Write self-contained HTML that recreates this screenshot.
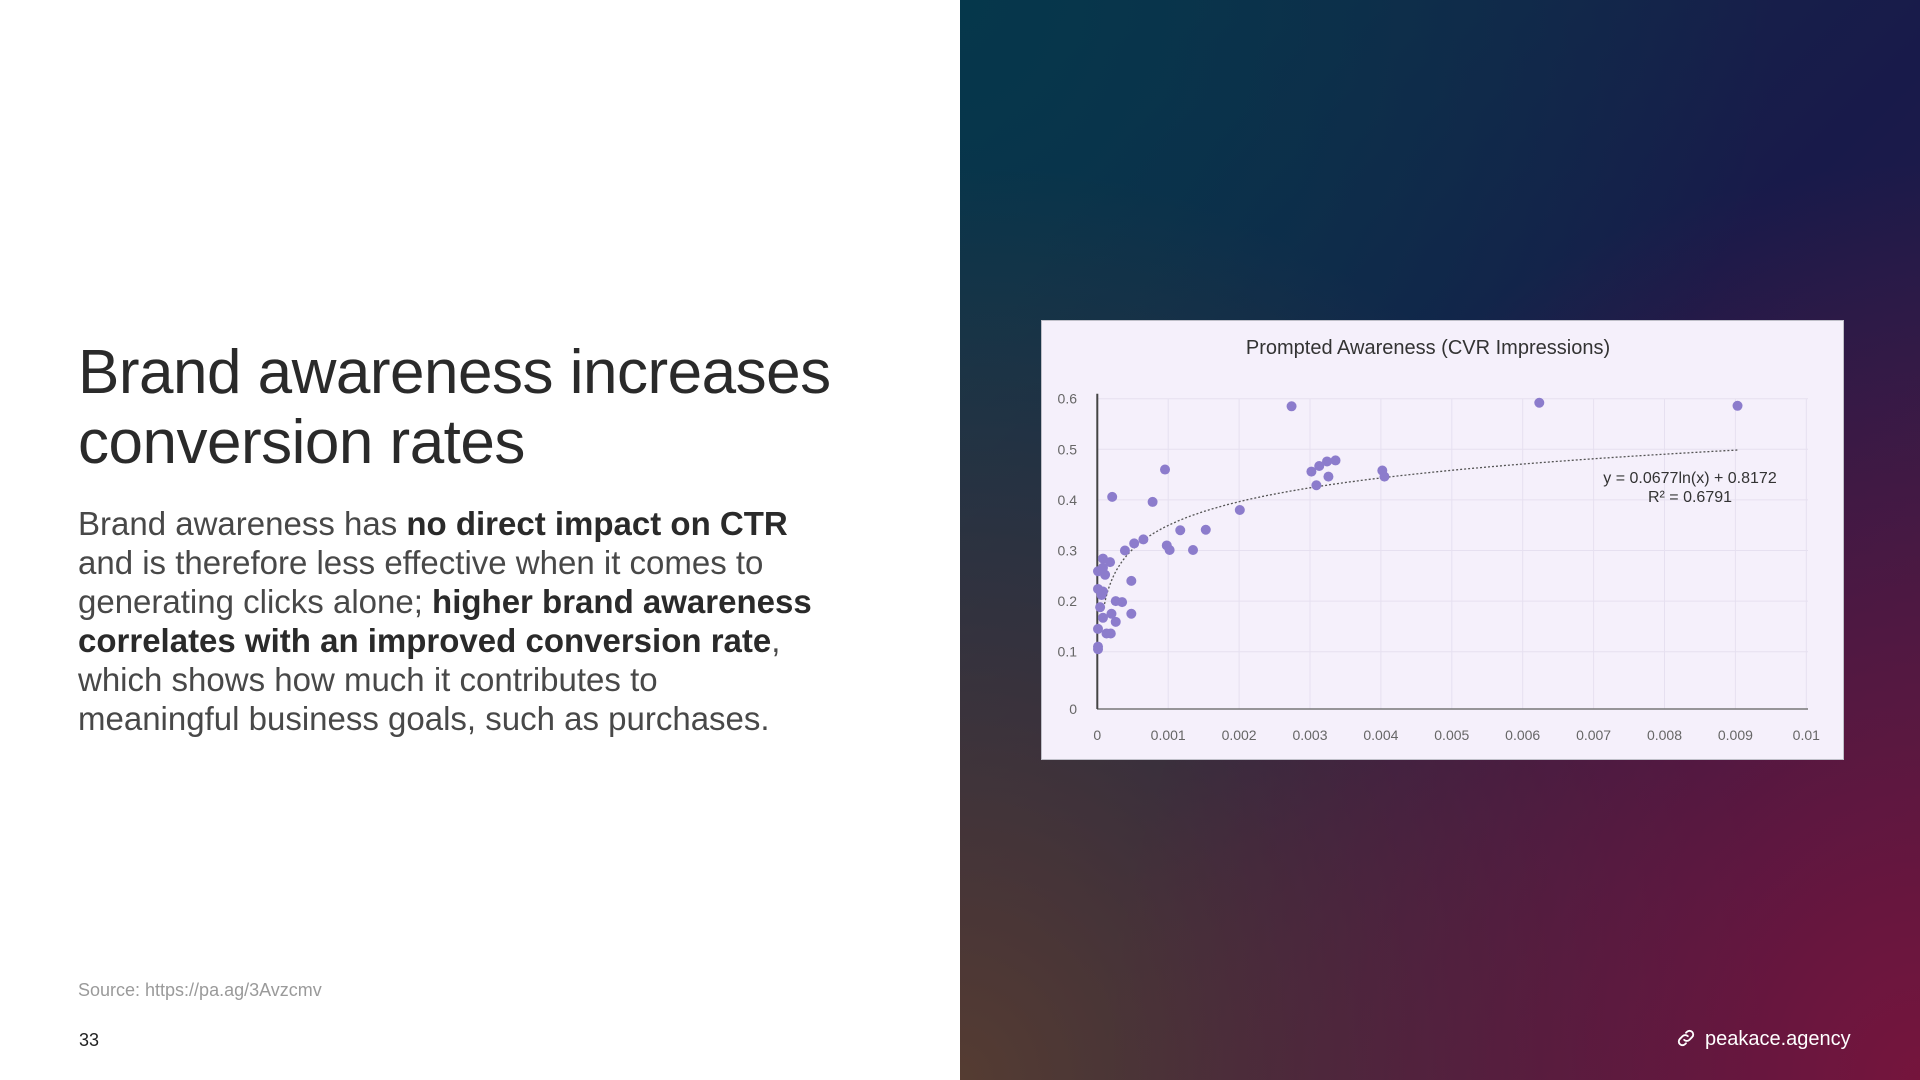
<!DOCTYPE html>
<html><head><meta charset="utf-8"><style>
html,body{margin:0;padding:0;width:1920px;height:1080px;overflow:hidden;font-family:"Liberation Sans",sans-serif;}
#left{position:absolute;left:0;top:0;width:960px;height:1080px;background:#fff;}
#right{position:absolute;left:960px;top:0;width:960px;height:1080px;
background:radial-gradient(ellipse at 100% 100%, rgba(120,20,60,0.95) 0%, rgba(120,20,60,0) 60%),
radial-gradient(ellipse at 0% 100%, rgba(85,60,50,1) 0%, rgba(85,60,50,0) 60%),
radial-gradient(ellipse at 0% 0%, rgba(5,55,75,1) 0%, rgba(5,55,75,0) 60%),
linear-gradient(135deg,#12304a 0%,#181a4a 50%,#3a1e45 100%);}
h1{position:absolute;left:78px;top:338px;margin:0;font-weight:normal;font-size:62px;line-height:70px;color:#2a2a2a;letter-spacing:-0.5px;}
#body{position:absolute;left:78px;top:504px;width:800px;font-size:33px;line-height:39px;color:#484848;}
#body b{color:#2a2a2a;}
#src{position:absolute;left:78px;top:980px;font-size:18px;color:#9a9a9a;}
#pg{position:absolute;left:79px;top:1030px;font-size:18px;color:#222;}
#link{position:absolute;left:1675px;top:1027px;font-size:20px;color:#fff;}
#card{position:absolute;left:1041px;top:320px;width:801px;height:438px;background:#f5f0fb;border:1px solid #bfbfc8;}
</style></head><body>
<div id="left"></div>
<div id="right"></div>
<h1>Brand awareness increases<br>conversion rates</h1>
<div id="body">Brand awareness has <b>no direct impact on CTR</b><br>and is therefore less effective when it comes to<br>generating clicks alone; <b>higher brand awareness<br>correlates with an improved conversion rate</b>,<br>which shows how much it contributes to<br>meaningful business goals, such as purchases.</div>
<div id="src">Source: https://pa.ag/3Avzcmv</div>
<div id="pg">33</div>
<div id="link"><svg width="22" height="22" viewBox="0 0 24 24" style="vertical-align:-4px;margin-right:8px" fill="none" stroke="#fff" stroke-width="2" stroke-linecap="round"><path d="M10 14a4 4 0 0 0 5.7 0l3-3a4 4 0 0 0-5.7-5.7l-1 1"/><path d="M14 10a4 4 0 0 0-5.7 0l-3 3a4 4 0 0 0 5.7 5.7l1-1"/></svg>peakace.agency</div>
<div id="card"></div>
<svg id="chart" width="1920" height="1080" style="position:absolute;left:0;top:0"></svg>
<script>
const xs=[0.00274,0.000955,0.00021,0.00078,0.00201,0.00117,0.00153,0.00065,0.00052,0.00039,0.00098,0.00102,0.00135,0.00302,0.00313,0.00324,0.00336,0.00326,0.00309,0.00402,0.00405,0.00008,0.00018,0.00001,0.00011,0.00008,0.00048,0.00001,0.00008,0.00006,0.00026,0.00035,0.00004,0.00048,0.0002,0.00008,0.00026,0.00001,0.00013,0.00019,0.00001,0.00001,0.006234,0.00903];
const ys=[0.585,0.46,0.406,0.396,0.38,0.34,0.341,0.322,0.314,0.30,0.31,0.301,0.301,0.456,0.467,0.476,0.478,0.446,0.429,0.458,0.446,0.284,0.277,0.259,0.252,0.266,0.24,0.224,0.219,0.212,0.2,0.198,0.188,0.175,0.175,0.167,0.159,0.145,0.136,0.136,0.11,0.105,0.592,0.586];
const xTicks=["0","0.001","0.002","0.003","0.004","0.005","0.006","0.007","0.008","0.009","0.01"];
const yTicks=["0","0.1","0.2","0.3","0.4","0.5","0.6"];
const trendA=0.0677, trendB=0.8172;
const NS="http://www.w3.org/2000/svg";
const svg=document.getElementById('chart');
const X=v=>1097.3+v*70900;
const Y=v=>702.3-v*506;
function mk(t,a){const e=document.createElementNS(NS,t);for(const k in a)e.setAttribute(k,a[k]);svg.appendChild(e);return e;}
let t=mk('text',{x:1428,y:354,'text-anchor':'middle','font-size':20,fill:'#333','font-family':'Liberation Sans, sans-serif'});
t.textContent='Prompted Awareness (CVR Impressions)';


xTicks.forEach((s,i)=>{const v=parseFloat(s);const x=X(v);
 if(i>0){const g=mk('line',{x1:x,x2:x,y1:Y(0.6),y2:709,stroke:'#e6e0f0','stroke-width':1});
 
 }
 const l=mk('text',{x:x,y:740,'text-anchor':'middle','font-size':14,fill:'#666'});l.textContent=s;
 
 });
yTicks.forEach((s,i)=>{const v=parseFloat(s);const y=Y(v);
 if(i>0){const g=mk('line',{x1:1097,x2:1808,y1:y,y2:y,stroke:'#e6e0f0','stroke-width':1});
 
 }
 const l=mk('text',{x:1077,y:(i==0?709:y)+5,'text-anchor':'end','font-size':14,fill:'#666'});l.textContent=s;
 
 });
let ax=mk('line',{x1:1097,x2:1808,y1:709,y2:709,stroke:'#777','stroke-width':1.5});


let ay=mk('line',{x1:1097.3,x2:1097.3,y1:Y(0.6)-5,y2:709,stroke:'#444','stroke-width':2});


let d='';for(let v=0.00009;v<=0.00903;v+=0.00003){const y=trendA*Math.log(v)+trendB;d+=(d?'L':'M')+X(v).toFixed(1)+','+Y(y).toFixed(1);}
let tr=mk('path',{d:d,fill:'none',stroke:'#555','stroke-width':1.3,'stroke-dasharray':'2,2'});


xs.forEach((v,i)=>{const c=mk('circle',{cx:X(v),cy:Y(ys[i]),r:5,fill:'#8c7ccc'});
 
 });
let e1=mk('text',{x:1690,y:483,'text-anchor':'middle','font-size':16,fill:'#333'});e1.textContent='y = 0.0677ln(x) + 0.8172';


let e2=mk('text',{x:1690,y:502,'text-anchor':'middle','font-size':16,fill:'#333'});e2.textContent='R² = 0.6791';


</script>
</body></html>
